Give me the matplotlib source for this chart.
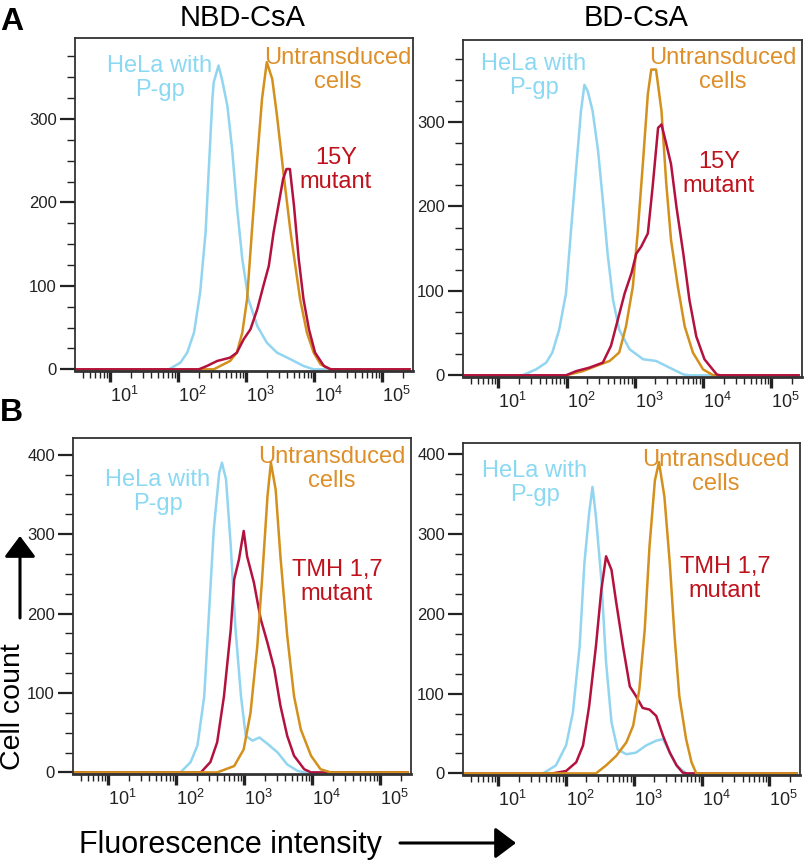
import matplotlib
matplotlib.use("Agg")
import matplotlib.pyplot as plt
import numpy as np
from matplotlib import font_manager
from matplotlib.ticker import LogLocator, NullFormatter, MultipleLocator, FixedLocator

plt.rcParams['font.family'] = ['Liberation Sans', 'DejaVu Sans']

# narrow face for the tick numbers if it is there
try:
    font_manager.findfont('Liberation Sans Narrow', fallback_to_default=False)
    tick_font = 'Liberation Sans Narrow'
    xl_size, yl_size = 17, 14.5
except Exception:
    tick_font = 'Liberation Sans'
    xl_size, yl_size = 13, 12

plt.rcParams['mathtext.fontset'] = 'custom'
plt.rcParams['mathtext.rm'] = tick_font
plt.rcParams['mathtext.it'] = tick_font

W, H = 806, 861

# ---- data: log10(fluorescence intensity) and cell counts ----
# Panel A, NBD-CsA
a1_pgp_x = [0.5, 1.86, 2.03, 2.13, 2.23, 2.32, 2.40, 2.45, 2.50, 2.52, 2.59, 2.64, 2.72, 2.79, 2.86, 2.94, 3.03, 3.16, 3.30, 3.45, 3.65, 3.84, 3.99, 5.4]
a1_pgp_y = [0, 0, 8, 20, 44, 92, 164, 244, 324, 344, 364, 348, 316, 264, 196, 132, 84, 52, 32, 20, 12, 4, 0, 0]
a1_unt_x = [0.5, 2.52, 2.76, 2.86, 2.94, 3.01, 3.08, 3.16, 3.23, 3.30, 3.38, 3.45, 3.55, 3.65, 3.72, 3.79, 3.89, 3.99, 4.09, 4.24, 5.4]
a1_unt_y = [0, 0, 10, 20, 44, 84, 164, 252, 324, 368, 348, 304, 232, 164, 124, 84, 44, 20, 6, 0, 0]
a1_mut_x = [0.5, 2.30, 2.42, 2.57, 2.76, 2.86, 2.96, 3.06, 3.16, 3.25, 3.33, 3.40, 3.47, 3.54, 3.59, 3.64, 3.70, 3.77, 3.84, 3.92, 4.01, 4.14, 4.24, 5.4]
a1_mut_y = [0, 0, 4, 10, 14, 20, 36, 48, 72, 100, 124, 164, 196, 228, 240, 240, 196, 132, 84, 48, 20, 4, 0, 0]

# Panel A, BD-CsA
a2_pgp_x = [0.5, 1.35, 1.55, 1.70, 1.79, 1.89, 1.99, 2.06, 2.14, 2.21, 2.26, 2.31, 2.38, 2.46, 2.53, 2.60, 2.68, 2.77, 2.92, 3.12, 3.31, 3.51, 3.71, 3.80, 5.4]
a2_pgp_y = [0, 0, 7, 15, 27, 54, 97, 168, 246, 313, 344, 336, 313, 266, 207, 144, 89, 54, 31, 19, 17, 9, 1, 0, 0]
a2_unt_x = [0.5, 1.99, 2.24, 2.43, 2.63, 2.77, 2.87, 2.97, 3.04, 3.12, 3.19, 3.24, 3.31, 3.39, 3.46, 3.53, 3.63, 3.73, 3.85, 4.00, 4.15, 5.4]
a2_unt_y = [0, 0, 5, 11, 17, 27, 58, 105, 168, 254, 333, 362, 362, 313, 227, 160, 105, 58, 27, 7, 0, 0]
a2_mut_x = [0.5, 1.99, 2.14, 2.33, 2.53, 2.65, 2.75, 2.85, 2.95, 3.02, 3.09, 3.19, 3.26, 3.34, 3.39, 3.46, 3.53, 3.61, 3.71, 3.80, 3.90, 4.02, 4.20, 4.25, 5.4]
a2_mut_y = [0, 0, 5, 9, 15, 35, 66, 97, 121, 144, 152, 168, 223, 293, 297, 274, 250, 199, 144, 89, 46, 19, 1, 0, 0]

# Panel B, NBD-CsA
b1_pgp_x = [0.5, 2.06, 2.21, 2.31, 2.41, 2.48, 2.55, 2.63, 2.67, 2.73, 2.80, 2.87, 2.95, 3.02, 3.12, 3.22, 3.34, 3.49, 3.63, 3.78, 3.88, 5.4]
b1_pgp_y = [0, 0, 13, 34, 96, 201, 306, 377, 390, 369, 285, 180, 96, 46, 40, 44, 36, 25, 10, 2, 0, 0]
b1_mut_x = [0.5, 2.36, 2.50, 2.60, 2.70, 2.80, 2.85, 2.92, 2.99, 3.04, 3.14, 3.24, 3.34, 3.44, 3.53, 3.63, 3.73, 3.88, 3.98, 5.4]
b1_mut_y = [0, 0, 13, 38, 96, 180, 243, 268, 304, 272, 239, 193, 163, 130, 84, 46, 21, 4, 0, 0]
b1_unt_x = [0.5, 2.60, 2.85, 2.99, 3.09, 3.19, 3.26, 3.34, 3.39, 3.46, 3.53, 3.63, 3.73, 3.83, 3.98, 4.12, 4.27, 5.4]
b1_unt_y = [0, 0, 8, 29, 75, 159, 243, 348, 390, 356, 272, 172, 96, 54, 21, 4, 0, 0]

# Panel B, BD-CsA
b2_pgp_x = [0.5, 1.66, 1.85, 2.00, 2.10, 2.20, 2.27, 2.34, 2.39, 2.44, 2.52, 2.59, 2.67, 2.76, 2.89, 3.03, 3.18, 3.33, 3.43, 3.53, 3.63, 3.77, 5.4]
b2_pgp_y = [0, 0, 10, 35, 76, 159, 263, 326, 359, 322, 243, 139, 64, 30, 24, 26, 35, 41, 43, 26, 10, 0, 0]
b2_mut_x = [0.5, 1.80, 2.00, 2.15, 2.25, 2.34, 2.44, 2.52, 2.59, 2.67, 2.74, 2.84, 2.94, 3.03, 3.13, 3.23, 3.33, 3.43, 3.53, 3.63, 3.72, 3.78, 5.4]
b2_mut_y = [0, 0, 3, 14, 35, 84, 159, 230, 272, 255, 214, 159, 109, 97, 82, 80, 72, 47, 26, 10, 1, 0, 0]
b2_unt_x = [0.5, 2.44, 2.59, 2.74, 2.89, 2.99, 3.08, 3.16, 3.23, 3.31, 3.37, 3.45, 3.53, 3.60, 3.67, 3.77, 3.85, 3.92, 5.4]
b2_unt_y = [0, 0, 10, 22, 39, 60, 105, 180, 284, 367, 390, 347, 263, 172, 97, 43, 14, 0, 0]

decade_ticks = [1e1, 1e2, 1e3, 1e4, 1e5]
decade_labels = [r'$10^{1}$', r'$10^{2}$', r'$10^{3}$', r'$10^{4}$', r'$10^{5}$']

c_pgp = '#92d5f0'
c_unt = '#d4901c'
c_mut = '#b3123e'
t_pgp = '#8ad8f2'
t_unt = '#de8f28'
t_mut = '#c0121c'

fig = plt.figure(figsize=(W / 100, H / 100), dpi=100)


def px_axes(l, t, r, b):
    return fig.add_axes([l / W, 1 - b / H, (r - l) / W, (b - t) / H])


def ftext(x, y, s, **kw):
    return fig.text(x / W, 1 - y / H, s, **kw)


def style(ax, ymax, yticks):
    ax.set_xscale('log')
    ax.set_xlim(10 ** 0.48, 10 ** 5.45)
    ax.set_ylim(-2, ymax)
    ax.xaxis.set_major_locator(FixedLocator(decade_ticks))
    ax.set_xticklabels(decade_labels)
    ax.xaxis.set_minor_locator(LogLocator(base=10, subs=np.arange(2, 10)))
    ax.xaxis.set_minor_formatter(NullFormatter())
    ax.yaxis.set_major_locator(FixedLocator(yticks))
    ax.yaxis.set_minor_locator(MultipleLocator(25))
    ax.tick_params(axis='x', which='major', direction='out', length=8, width=2.4,
                   color='#222222', pad=3, labelsize=xl_size, labelcolor='#222222')
    ax.tick_params(axis='x', which='minor', direction='out', length=5, width=1.0, color='#222222')
    ax.tick_params(axis='y', which='major', direction='out', length=11, width=1.6,
                   color='#222222', pad=2, labelsize=yl_size, labelcolor='#222222')
    ax.tick_params(axis='y', which='minor', direction='out', length=6, width=1.0, color='#222222')
    for lab in ax.get_xticklabels():
        lab.set_horizontalalignment('left')
    for lab in ax.get_yticklabels():
        lab.set_fontfamily(tick_font)
    for sp in ax.spines.values():
        sp.set_color('#333333')
        sp.set_linewidth(1.3)
    ax.spines['bottom'].set_linewidth(2.0)


def draw(ax, curves):
    for xs, ys, col in curves:
        ax.plot(10 ** np.array(xs), ys, color=col, lw=1.8, solid_joinstyle='round')


ax1 = px_axes(75, 38, 413, 371)
draw(ax1, [(a1_pgp_x, a1_pgp_y, c_pgp), (a1_unt_x, a1_unt_y, c_unt), (a1_mut_x, a1_mut_y, c_mut)])
style(ax1, 397, [0, 100, 200, 300])

ax2 = px_axes(463, 40, 802, 377)
draw(ax2, [(a2_pgp_x, a2_pgp_y, c_pgp), (a2_unt_x, a2_unt_y, c_unt), (a2_mut_x, a2_mut_y, c_mut)])
style(ax2, 397, [0, 100, 200, 300])

ax3 = px_axes(73, 438, 411, 774)
draw(ax3, [(b1_pgp_x, b1_pgp_y, c_pgp), (b1_mut_x, b1_mut_y, c_mut), (b1_unt_x, b1_unt_y, c_unt)])
style(ax3, 421, [0, 100, 200, 300, 400])

ax4 = px_axes(463, 443, 800, 775)
draw(ax4, [(b2_pgp_x, b2_pgp_y, c_pgp), (b2_mut_x, b2_mut_y, c_mut), (b2_unt_x, b2_unt_y, c_unt)])
style(ax4, 414, [0, 100, 200, 300, 400])


def label(ax, x, y, s, col):
    # x, y in figure pixels, clipped to the axes box
    t = ftext(x, y, s, color=col, fontsize=17, ha='center', va='center', linespacing=1.15)
    t.set_clip_on(True)
    t.set_clip_box(ax.bbox)

label(ax1, 160, 78, 'HeLa with\nP-gp', t_pgp)
label(ax1, 338, 70, 'Untransduced\ncells', t_unt)
label(ax1, 336, 170, '15Y\nmutant', t_mut)

label(ax2, 534, 76, 'HeLa with\nP-gp', t_pgp)
label(ax2, 723, 70, 'Untransduced\ncells', t_unt)
label(ax2, 719, 174, '15Y\nmutant', t_mut)

label(ax3, 158, 492, 'HeLa with\nP-gp', t_pgp)
label(ax3, 332, 469, 'Untransduced\ncells', t_unt)
label(ax3, 337, 582, 'TMH 1,7\nmutant', t_mut)

label(ax4, 535, 483, 'HeLa with\nP-gp', t_pgp)
label(ax4, 716, 472, 'Untransduced\ncells', t_unt)
label(ax4, 725, 579, 'TMH 1,7\nmutant', t_mut)

# titles and panel letters
ftext(243, 18, 'NBD-CsA', fontsize=21, ha='center', va='center')
ftext(636, 18, 'BD-CsA', fontsize=21, ha='center', va='center')
ftext(0, 30, 'A', fontsize=23, fontweight='bold', ha='left', va='baseline')
ftext(0, 421, 'B', fontsize=23, fontweight='bold', ha='left', va='baseline')

# axis titles with arrows
ftext(0, 707, 'Cell count', fontsize=20.5, rotation=90, ha='left', va='center')
fig.add_artist(matplotlib.patches.FancyArrowPatch(
    (20 / W, 1 - 618 / H), (20 / W, 1 - 536 / H), transform=fig.transFigure,
    arrowstyle='-|>,head_length=8,head_width=6', color='black', lw=2.2,
    shrinkA=0, shrinkB=0, mutation_scale=1.6))
ftext(230, 853, 'Fluorescence intensity', fontsize=22, ha='center', va='baseline')
fig.add_artist(matplotlib.patches.FancyArrowPatch(
    (400 / W, 1 - 843 / H), (516 / W, 1 - 843 / H), transform=fig.transFigure,
    arrowstyle='-|>,head_length=8,head_width=6', color='black', lw=2.2,
    shrinkA=0, shrinkB=0, mutation_scale=1.6))

fig.savefig('out.png', dpi=100)
